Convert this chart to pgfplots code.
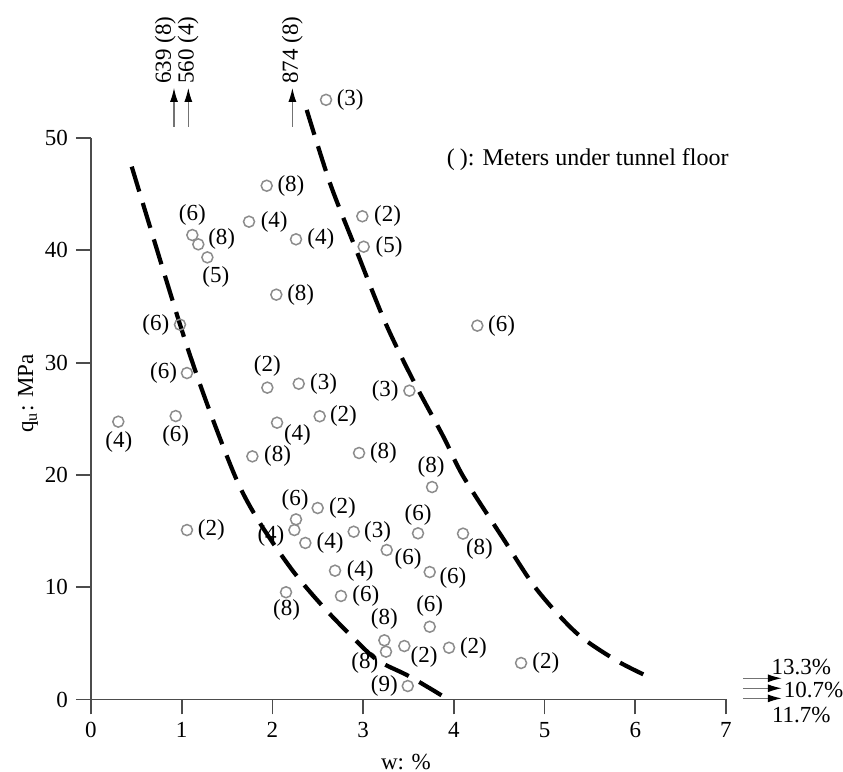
\documentclass[border=0pt,11pt]{standalone}
\usepackage{fontspec}
\setmainfont{Liberation Serif}
\usepackage{pgfplots}
\usepackage{pgfplotstable}
\usetikzlibrary{arrows.meta}
\pgfplotsset{compat=1.18}
\pgfplotstableread{
x y lab dx dy
2.591 53.40 3 12.1 0
1.937 45.75 8 12.1 0
1.742 42.55 4 12.6 0
1.117 41.36 6 0 10.2
1.183 40.53 8 11.7 2.7
1.283 39.37 5 4.2 -9.9
2.260 40.98 4 12.4 0
2.991 43.03 2 12.6 0
3.006 40.32 5 12.7 0
2.043 36.05 8 12.2 0
0.981 33.38 6 -12.1 0
4.259 33.29 6 12.1 0
1.058 29.07 6 -11.7 0
1.944 27.77 2 0 10.7
2.290 28.12 3 12.4 0
3.510 27.50 3 -12.1 0
0.301 24.74 4 0.3 -10.2
0.934 25.24 6 0 -9.9
2.051 24.65 4 10.2 -6.3
2.521 25.22 2 11.9 0
1.779 21.65 8 12.6 0
2.955 21.95 8 12.2 0
3.760 18.92 8 -0.5 10
1.058 15.09 2 12.2 0
2.260 16.04 6 -0.5 9.9
2.242 15.09 4 -11.7 -3
2.499 17.05 2 12.4 0
2.363 13.94 4 12.4 0
2.896 14.94 3 11.9 0
3.605 14.80 6 0 9.4
4.101 14.77 8 8.2 -7.9
3.260 13.31 6 10.7 -4.7
2.690 11.47 4 12.6 0
3.734 11.35 6 11.6 -3.2
2.756 9.22 6 12.4 0
2.150 9.55 8 0.3 -8.7
3.734 6.48 6 0 10.5
3.234 5.27 8 0 10.7
3.252 4.26 8 -10.6 -5.7
3.454 4.76 2 9.9 -5.7
3.947 4.61 2 12.2 0
4.741 3.25 2 12.4 0
3.492 1.20 9 -11.7 0
}\pts
\begin{document}
\fontsize{11.5}{14}\selectfont
\begin{tikzpicture}
\begin{axis}[
  name=ax,
  scale only axis, width=317.5pt, height=280.75pt,
  xmin=0, xmax=7, ymin=0, ymax=50,
  axis lines*=left,
  axis line style={black!70, line width=0.9pt},
  every tick/.style={black!70, line width=0.9pt},
  tick align=outside, major tick length=7.5pt,
  xtick={0,1,...,7}, ytick={0,10,...,50},
  /pgf/number format/assume math mode=true,
  tick label style={font=\fontsize{11.5}{14}\selectfont},
  clip=false,
  xlabel={w: \%},
  xlabel style={at={(axis description cs:0.496,-0.111)}, anchor=center},
  ylabel={q\textsubscript{u}: MPa},
  ylabel style={at={(axis description cs:-0.099,0.545)}, anchor=center},
]
\addplot[black, line width=2.1pt, dash pattern=on 13pt off 6pt, smooth] coordinates {
 (0.449,47.45) (0.981,33.4) (1.276,26.4) (1.606,19.55) (1.863,15.7) (2.23,11.4) (2.6,7.9) (3.04,4.3) (3.22,3.2) (3.517,2.03) (3.94,0.0)};
\addplot[black, line width=2.1pt, dash pattern=on 13pt off 6pt, smooth] coordinates {
 (2.378,52.5) (2.635,45.97) (2.91,40.3) (3.24,33.64) (3.55,28.45) (3.885,23.4) (4.105,19.84) (4.546,14.3) (4.914,9.8) (5.355,5.9) (5.797,3.45) (6.144,2.03)};
\addplot[only marks, mark=o, mark size=2.75pt, mark options={draw=black!45, line width=0.75pt},
  point meta=explicit symbolic,
  visualization depends on={\thisrow{dx}\as\dx},
  visualization depends on={\thisrow{dy}\as\dy},
  nodes near coords={(\pgfplotspointmeta)},
  every node near coord/.append style={anchor=center, inner sep=0pt, xshift=\dx pt, yshift=\dy pt, font=\fontsize{11.5}{14}\selectfont, text=black}
] table[x=x, y=y, meta=lab] {\pts};
% top arrows
\draw[line width=0.6pt, draw=black!55, -{Latex[length=7pt,width=4pt,color=black]}] (axis cs:0.915,50.98) -- (axis cs:0.915,54.46);
\draw[line width=0.6pt, draw=black!55, -{Latex[length=7pt,width=4pt,color=black]}] (axis cs:1.073,50.98) -- (axis cs:1.073,54.46);
\draw[line width=0.6pt, draw=black!55, -{Latex[length=7pt,width=4pt,color=black]}] (axis cs:2.22,50.98) -- (axis cs:2.22,54.46);
\node[rotate=90, anchor=west, inner sep=0pt] at (axis cs:0.82,54.8) {639 (8)};
\node[rotate=90, anchor=west, inner sep=0pt] at (axis cs:1.07,54.8) {560 (4)};
\node[rotate=90, anchor=west, inner sep=0pt] at (axis cs:2.22,54.8) {874 (8)};
% right arrows
\draw[line width=0.6pt, draw=black!55, -{Latex[length=7pt,width=4pt,color=black]}] (axis cs:7.19,1.89) -- (axis cs:7.615,1.89);
\draw[line width=0.6pt, draw=black!55, -{Latex[length=7pt,width=4pt,color=black]}] (axis cs:7.19,1.0) -- (axis cs:7.615,1.0);
\draw[line width=0.6pt, draw=black!55, -{Latex[length=7pt,width=4pt,color=black]}] (axis cs:7.19,0.1) -- (axis cs:7.615,0.1);
\node[anchor=center, inner sep=0pt] at (axis cs:7.83,2.92) {13.3\%};
\node[anchor=center, inner sep=0pt] at (axis cs:7.966,0.85) {10.7\%};
\node[anchor=center, inner sep=0pt] at (axis cs:7.83,-1.38) {11.7\%};
\node[anchor=west, inner sep=0pt, font=\fontsize{12}{14}\selectfont] at (axis cs:3.92,48.04) {(\kern2.5pt): Meters under tunnel floor};
\end{axis}
\pgfresetboundingbox
\path (ax.south west) ++(-45.5pt,-36.25pt) rectangle ++(421.5pt,386pt);
\end{tikzpicture}
\end{document}
